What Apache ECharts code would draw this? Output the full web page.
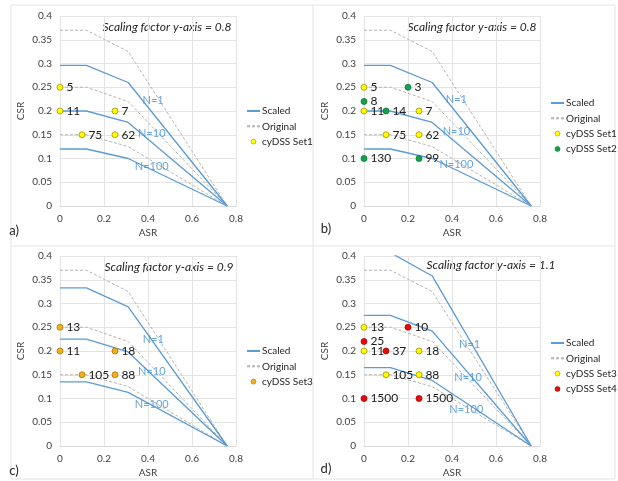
<!DOCTYPE html>
<html lang="en">
<head>
<meta charset="UTF-8">
<title>CSR vs ASR - scaled curves</title>
<script src="https://cdn.jsdelivr.net/npm/echarts@6/dist/echarts.min.js"></script>
<style>
    html, body { margin: 0; padding: 0; background: #fff; }
    #main { width: 618px; height: 481px; }
</style>
</head>
<body>
<div id="main"></div>
<script>
// ASR breakpoints shared by all curves
var asrBreaks = [0, 0.12, 0.31, 0.76];

// original curves (dashed)
var origN1 = [0.37, 0.37, 0.325, 0];
var origN10 = [0.25, 0.25, 0.22, 0];
var origN100 = [0.15, 0.15, 0.125, 0];

// scaled curves, factor 0.8 / 0.9 / 1.1
var scaled08N1 = [0.296, 0.296, 0.26, 0];
var scaled08N10 = [0.2, 0.2, 0.176, 0];
var scaled08N100 = [0.12, 0.12, 0.1, 0];
var scaled09N1 = [0.333, 0.333, 0.293, 0];
var scaled09N10 = [0.225, 0.225, 0.198, 0];
var scaled09N100 = [0.135, 0.135, 0.113, 0];
var scaled11N1 = [0.407, 0.407, 0.358, 0];
var scaled11N10 = [0.275, 0.275, 0.242, 0];
var scaled11N100 = [0.165, 0.165, 0.138, 0];

// cyDSS points
var set1Asr = [0, 0, 0.25, 0.1, 0.25];
var set1Csr = [0.25, 0.2, 0.2, 0.15, 0.15];
var set1Count = ['5', '11', '7', '75', '62'];
var set2Asr = [0.2, 0, 0.1, 0, 0.25];
var set2Csr = [0.25, 0.22, 0.2, 0.1, 0.1];
var set2Count = ['3', '8', '14', '130', '99'];
var set3Asr = [0, 0, 0.25, 0.1, 0.25];
var set3Csr = [0.25, 0.2, 0.2, 0.15, 0.15];
var set3Count = ['13', '11', '18', '105', '88'];
var set4Asr = [0.2, 0, 0.1, 0, 0.25];
var set4Csr = [0.25, 0.22, 0.2, 0.1, 0.1];
var set4Count = ['10', '25', '37', '1500', '1500'];

var curveNames = ['N=1', 'N=10', 'N=100'];
var xTicks = [0, 0.8, 0.2];
var yTicks = [0, 0.4, 0.05];

var FONT = 'Lato, "Liberation Sans", sans-serif';
var BLUE = '#5b9bd5';
var GRAY = '#b4b4b4';
var setStyle = {
    'cyDSS Set1': {fill: '#ffff00', border: '#a09400'},
    'cyDSS Set2': {fill: '#12a34a', border: '#0d7a37'},
    'cyDSS Set3': {fill: '#f2b01c', border: '#a77600'},
    'cyDSS Set3y': {fill: '#ffff00', border: '#a09400'},
    'cyDSS Set4': {fill: '#e30c0c', border: '#b00000'}
};

function zip(xs, ys) {
    return xs.map(function (x, i) { return [x, ys[i]]; });
}

var panels = [
    {id: 'a', left: 60, top: 16, factor: '0.8', scaled: [scaled08N1, scaled08N10, scaled08N100],
        sets: [['cyDSS Set1', set1Asr, set1Csr, set1Count]],
        nPos: [[0.423, 0.223], [0.417, 0.153], [0.417, 0.084]],
        titleXY: [167, 27], labelXY: [14, 231], legendXY: [246, 106]},
    {id: 'b', left: 364, top: 16, factor: '0.8', scaled: [scaled08N1, scaled08N10, scaled08N100],
        sets: [['cyDSS Set1', set1Asr, set1Csr, set1Count], ['cyDSS Set2', set2Asr, set2Csr, set2Count]],
        nPos: [[0.42, 0.225], [0.42, 0.156], [0.42, 0.088]],
        titleXY: [472, 27], labelXY: [326, 229], legendXY: [550, 98]},
    {id: 'c', left: 60, top: 256, factor: '0.9', scaled: [scaled09N1, scaled09N10, scaled09N100],
        sets: [['cyDSS Set3', set3Asr, set3Csr, set3Count]],
        nPos: [[0.424, 0.225], [0.417, 0.156], [0.417, 0.088]],
        titleXY: [169, 267], labelXY: [14, 471], legendXY: [246, 346]},
    {id: 'd', left: 364, top: 256, factor: '1.1', scaled: [scaled11N1, scaled11N10, scaled11N100],
        sets: [['cyDSS Set3y', set3Asr, set3Csr, set3Count], ['cyDSS Set4', set4Asr, set4Csr, set4Count]],
        nPos: [[0.48, 0.214], [0.473, 0.145], [0.465, 0.076]],
        titleXY: [491, 265], labelXY: [326, 469], legendXY: [550, 338]}
];

var option = {
    animation: false,
    backgroundColor: '#fff',
    textStyle: {fontFamily: FONT},
    grid: [], xAxis: [], yAxis: [], series: [], legend: [],
    graphic: [
        {type: 'rect', shape: {x: 11, y: 5, width: 604, height: 474}, style: {fill: 'none', stroke: '#e4e4e4', lineWidth: 1}},
        {type: 'line', shape: {x1: 313, y1: 5, x2: 313, y2: 479}, style: {stroke: '#e4e4e4', lineWidth: 1}},
        {type: 'line', shape: {x1: 11, y1: 246, x2: 615, y2: 246}, style: {stroke: '#e4e4e4', lineWidth: 1}}
    ]
};

panels.forEach(function (p, i) {
    option.grid.push({left: p.left, top: p.top, width: 176, height: 190});
    option.xAxis.push({
        gridIndex: i, type: 'value', min: xTicks[0], max: xTicks[1], interval: xTicks[2],
        name: 'ASR', nameLocation: 'middle', nameGap: 22,
        nameTextStyle: {fontSize: 10, color: '#404040', fontFamily: FONT},
        axisLine: {lineStyle: {color: '#d9d9d9'}}, axisTick: {show: false},
        axisLabel: {fontSize: 10, color: '#404040', margin: 8, fontFamily: FONT},
        splitLine: {show: true, lineStyle: {color: '#e3e3e3'}}
    });
    option.yAxis.push({
        gridIndex: i, type: 'value', min: yTicks[0], max: yTicks[1], interval: yTicks[2],
        name: 'CSR', nameLocation: 'middle', nameGap: 34,
        nameTextStyle: {fontSize: 10, color: '#404040', fontFamily: FONT},
        axisLine: {show: true, lineStyle: {color: '#e3e3e3'}}, axisTick: {show: false},
        axisLabel: {fontSize: 10, color: '#404040', margin: 8, fontFamily: FONT},
        splitLine: {show: true, lineStyle: {color: '#e3e3e3'}}
    });

    var origCurves = [origN1, origN10, origN100];
    origCurves.forEach(function (ys) {
        option.series.push({
            name: 'Original#' + p.id, type: 'line', xAxisIndex: i, yAxisIndex: i,
            data: zip(asrBreaks, ys), symbol: 'none', z: 2,
            lineStyle: {color: GRAY, width: 1, type: [3, 2]}, itemStyle: {color: GRAY}
        });
    });
    p.scaled.forEach(function (ys) {
        option.series.push({
            name: 'Scaled#' + p.id, type: 'line', xAxisIndex: i, yAxisIndex: i,
            data: zip(asrBreaks, ys), symbol: 'none', z: 3,
            lineStyle: {color: BLUE, width: 1.3}, itemStyle: {color: BLUE}
        });
    });
    // N= labels on the curves
    option.series.push({
        type: 'scatter', xAxisIndex: i, yAxisIndex: i, symbolSize: 0, z: 4, silent: true,
        data: p.nPos.map(function (xy, k) { return {value: xy, name: curveNames[k]}; }),
        label: {show: true, position: 'inside', formatter: '{b}', color: '#3d8fd6', fontSize: 11, fontFamily: FONT}
    });
    var hideDot = {opacity: 0, borderWidth: 0};
    var legendData = [
        {name: 'Scaled#' + p.id, itemStyle: hideDot},
        {name: 'Original#' + p.id, itemStyle: hideDot}
    ];
    p.sets.forEach(function (s) {
        var st = setStyle[s[0]];
        option.series.push({
            name: s[0] + '#' + p.id, type: 'scatter', xAxisIndex: i, yAxisIndex: i, z: 5,
            symbolSize: 6,
            itemStyle: {color: st.fill, borderColor: st.border, borderWidth: 0.8, opacity: 1},
            data: s[1].map(function (x, k) { return {value: [x, s[2][k]], name: s[3][k]}; }),
            label: {show: true, position: 'right', distance: 3, formatter: '{b}', color: '#1a1a1a', fontSize: 12, fontFamily: FONT}
        });
        legendData.push({name: s[0] + '#' + p.id, icon: 'circle', itemStyle: {borderWidth: 0.6}});
    });
    option.legend.push({
        orient: 'vertical', left: p.legendXY[0], top: p.legendXY[1], padding: 0,
        itemWidth: 13, itemHeight: 5, itemGap: 5.3, selectedMode: false,
        data: legendData,
        formatter: function (n) { return n.split('#')[0].replace('Set3y', 'Set3'); },
        textStyle: {fontSize: 10, color: '#262626', fontFamily: FONT, width: 60, overflow: 'none', padding: [0, 0, 0, -3]}
    });
    option.graphic.push({
        type: 'text', x: p.titleXY[0], y: p.titleXY[1],
        style: {text: 'Scaling factor y-axis = ' + p.factor, fill: '#262626', font: 'italic 12px ' + FONT,
            align: 'center', verticalAlign: 'middle'}
    });
    option.graphic.push({
        type: 'text', x: p.labelXY[0], y: p.labelXY[1],
        style: {text: p.id + ')', fill: '#262626', font: '13px ' + FONT, align: 'center', verticalAlign: 'middle'}
    });
});

var myChart = echarts.init(document.getElementById('main'));
myChart.setOption(option);
</script>
</body>
</html>
